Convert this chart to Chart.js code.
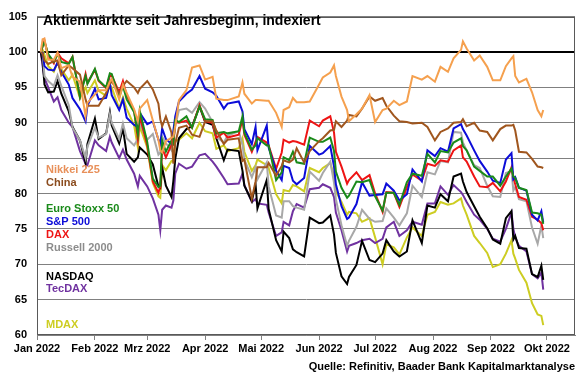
<!DOCTYPE html>
<html><head><meta charset="utf-8">
<script src="https://cdn.jsdelivr.net/npm/chart.js@4.4.1/dist/chart.umd.min.js"></script>
<style>html,body{margin:0;padding:0;background:#fff}#c{display:block}</style>
</head><body>
<canvas id="c" width="580" height="375"></canvas>
<script>
// ---- data (index, first trading day = 100) ----
const year = 2022;
const dates = [
'01-03','01-04','01-05','01-07','01-10','01-12','01-14','01-18','01-20','01-24',
'01-27','01-28','02-01','02-03','02-07','02-09','02-10','02-14','02-16','02-18',
'02-22','02-24','02-25','03-01','03-04','03-07','03-08','03-09','03-11','03-14',
'03-15','03-16','03-18','03-22','03-25','03-29','04-01','04-05','04-07','04-11',
'04-13','04-19','04-21','04-22','04-26','04-28','04-29','05-04','05-05','05-09',
'05-12','05-13','05-16','05-18','05-20','05-24','05-27','06-01','06-03','06-07',
'06-09','06-10','06-13','06-16','06-17','06-21','06-24','06-28','07-01','07-05',
'07-07','07-11','07-14','07-18','07-21','07-26','07-29','08-02','08-05','08-09',
'08-12','08-16','08-17','08-19','08-23','08-26','08-30','09-02','09-06','09-09',
'09-12','09-13','09-14','09-16','09-20','09-23','09-26','09-28','09-29'];

const nikkei = [100,101.8,101.9,98.9,98.9,99.9,97.7,98.1,96.5,95.8, 90.9,92.8,94.0,94.6,94.6,95.8,96.2,93.3,95.4,94.2, 91.9,90.2,92.0,93.2,90.3,87.6,86.1,85.8,87.4,87.9, 88.0,89.5,93.2,94.6,97.8,98.1,96.1,96.5,93.4,93.2, 93.2,93.7,95.7,94.1,92.7,93.2,93.2,93.1,93.1,91.4, 89.4,91.8,92.2,93.5,92.9,92.9,93.0,95.4,96.4,97.1, 98.1,96.6,93.7,91.8,90.2,91.2,92.0,93.9,90.1,91.8, 92.0,93.1,92.5,93.0,96.6,96.1,96.6,95.8,97.9,97.2, 99.1,100.3,101.5,100.5,98.8,99.5,97.9,96.0,96.0,98.0, 99.1,99.4,96.6,95.7,96.2,94.3,91.8,90.9,91.8];
const china = [100,99.8,98.8,98.3,98.7,98.8,96.7,98.1,97.7,96.8, 93.3,92.4,92.4,92.4,94.2,95.6,95.8,94.2,95.2,95.9, 95.0,94.2,94.8,95.9,94.7,92.7,90.5,89.5,90.9,88.6, 84.2,87.1,89.3,89.6,88.3,88.0,90.2,90.2,88.9,87.0, 87.6,87.8,84.6,84.8,79.3,81.7,83.7,83.7,84.3,82.5, 83.9,84.7,84.4,84.8,86.4,84.4,86.0,87.4,87.8,88.9, 89.0,90.2,89.4,90.3,91.1,90.9,92.0,93.7,93.1,93.5, 92.4,91.0,90.2,90.1,89.9,90.0,89.4,87.5,88.7,89.2, 90.0,90.1,90.5,89.5,90.0,88.9,88.7,87.5,89.1,89.6, 89.6,89.7,88.9,85.9,85.8,84.9,83.8,83.7,83.6];
const euroStoxx = [100,100.8,101.4,99.7,98.6,99.7,98.6,98.3,99.3,93.6, 96.6,95.5,97.6,96.0,95.0,97.0,96.9,93.6,95.2,93.3, 91.5,88.4,91.7,87.3,82.1,80.9,81.1,87.5,85.9,87.5, 87.1,90.4,90.1,90.9,89.3,92.3,90.5,90.4,88.5,88.7, 88.5,88.8,90.9,88.6,86.2,86.8,87.8,86.8,86.8,81.9, 83.0,85.1,84.7,85.9,84.4,84.2,87.9,87.3,87.3,87.9, 86.0,83.1,80.8,79.4,79.7,81.7,81.6,81.9,79.6,77.6, 80.1,80.1,78.4,81.6,82.8,82.5,85.6,84.4,86.0,85.8, 87.2,87.8,86.7,86.1,83.8,83.2,82.4,82.4,81.1,82.4, 83.5,82.4,82.2,80.8,80.5,77.3,77.2,77.0,75.7];
const sp500 = [100,99.9,98.0,97.5,97.4,98.5,97.2,95.4,93.5,91.9, 90.2,92.4,94.8,93.3,93.5,95.6,93.9,91.8,93.3,90.7, 89.7,89.4,91.4,89.8,90.2,87.6,87.0,89.2,87.7,87.0, 88.9,90.9,93.0,94.1,94.7,96.6,94.8,94.3,93.8,92.0, 92.7,93.0,91.6,89.1,87.0,89.4,86.1,89.6,86.5,83.2, 81.9,83.9,83.6,81.8,81.3,82.2,86.7,85.5,85.7,86.7, 83.8,81.3,78.2,76.4,76.6,78.5,81.6,79.7,79.8,79.9, 81.4,80.4,79.0,79.9,83.4,81.7,86.1,85.3,86.4,85.9, 89.2,89.8,89.1,88.2,86.1,84.6,83.1,81.8,81.5,84.8, 85.7,82.0,82.3,80.8,80.4,77.0,76.2,77.5,75.9];
const dax = [100,100.8,101.6,99.5,98.4,99.9,99.1,98.4,99.3,93.7, 96.9,95.6,97.5,95.9,94.9,96.6,96.7,94.3,95.9,93.9, 91.7,87.7,90.9,86.8,81.7,80.1,81.0,86.4,85.1,86.9, 86.9,90.1,90.0,90.3,89.3,92.5,90.2,90.0,87.9,88.6, 87.9,88.3,90.5,88.3,85.9,87.3,88.0,87.2,86.8,83.5, 85.8,87.6,87.2,87.4,87.3,86.9,90.3,89.5,90.3,90.9, 88.6,85.9,83.8,81.4,81.9,83.0,81.9,82.6,80.0,77.4, 80.2,80.1,78.1,80.9,82.7,81.8,84.2,83.9,84.7,84.5, 86.1,86.8,85.1,84.5,82.4,81.0,80.9,81.5,80.3,81.7, 83.7,82.3,81.3,79.5,79.1,76.7,76.3,75.8,74.8];
const russell = [100,99.8,96.6,95.9,95.2,96.7,95.2,92.5,89.3,87.5, 85.0,86.6,89.3,87.9,88.4,91.2,90.0,87.7,89.9,87.8, 86.8,87.7,89.9,87.6,88.4,85.5,85.8,88.0,87.1,86.1, 87.7,89.5,91.8,92.0,91.4,92.9,92.0,90.1,88.0,87.2, 88.2,88.8,86.9,84.8,82.3,83.7,82.0,84.4,81.0,76.9, 76.6,78.9,78.9,78.2,78.0,77.7,83.1,81.8,82.9,84.5, 81.5,79.2,75.5,72.6,73.3,75.3,77.7,76.4,76.0,76.1, 77.9,76.6,75.5,77.2,81.1,79.5,83.0,82.7,84.6,84.4, 88.7,88.6,87.2,86.1,84.0,83.6,81.1,79.6,79.5,82.9, 83.2,80.4,80.9,79.2,78.9,75.2,72.9,75.5,73.7];
const nasdaq = [100,98.7,95.4,94.3,94.4,95.9,94.1,91.6,89.4,87.5, 84.3,87.0,90.6,87.7,88.5,91.5,89.6,87.1,89.2,85.6, 84.5,85.1,86.5,85.5,84.1,81.0,80.8,83.7,81.1,79.5, 81.8,84.9,87.8,89.1,89.5,92.3,90.1,89.7,87.8,84.7, 86.2,86.0,83.2,81.1,78.9,81.3,77.9,81.9,77.8,73.4, 71.8,74.6,73.7,72.1,71.7,71.1,76.6,75.8,75.9,76.9, 74.2,71.6,68.3,67.2,68.2,69.9,73.3,70.6,70.3,71.5, 73.4,71.8,71.1,71.8,76.2,73.0,78.3,78.0,79.9,78.9, 82.4,82.8,81.7,80.2,78.2,76.7,75.1,73.5,72.9,76.5, 77.5,73.5,74.0,72.3,72.2,68.6,68.2,69.8,67.8];
const tecdax = [100,98.0,96.3,95.0,93.0,93.6,91.8,90.0,89.4,86.0, 84.2,84.0,87.5,86.8,86.0,88.0,87.2,85.0,86.2,84.8, 82.8,81.0,82.5,81.0,79.3,77.0,74.8,77.7,78.3,78.0, 79.0,82.8,84.2,83.5,83.8,85.4,85.6,84.5,83.8,82.2, 81.3,81.4,82.8,81.2,78.8,79.2,78.6,78.4,77.3,74.0, 74.5,76.0,75.5,77.5,78.5,78.0,80.6,80.8,81.3,80.8, 79.5,77.3,74.8,71.8,72.6,73.0,73.4,73.6,73.0,73.6, 75.2,76.0,74.0,74.8,76.0,75.6,78.6,78.6,81.0,79.8, 81.2,80.2,79.8,78.8,77.0,76.3,75.0,73.6,73.2,75.0, 77.3,75.0,73.8,72.6,71.8,68.6,68.0,68.8,66.4];
const mdax = [100,100.3,99.6,98.0,97.2,98.5,97.6,96.0,96.8,93.5, 95.0,94.2,96.0,94.5,93.8,95.3,95.0,92.0,93.6,92.0, 89.6,86.5,89.5,86.5,81.5,79.6,79.4,84.0,83.3,84.6, 84.5,87.4,87.6,88.5,87.8,90.0,88.8,88.5,86.3,86.8, 86.0,86.4,87.8,85.9,83.2,84.0,84.8,84.0,83.6,79.9, 78.6,80.5,80.3,81.2,81.0,80.3,83.6,83.0,83.6,84.3, 82.5,80.3,78.8,77.0,77.4,77.2,76.0,76.5,73.8,70.0, 72.8,72.4,71.4,73.8,75.2,74.0,77.0,77.4,78.8,78.4, 78.6,79.3,78.3,77.0,74.0,73.0,71.6,69.6,70.0,71.5, 73.4,71.5,70.8,69.2,67.4,64.5,62.9,62.7,61.4];

const seriesNames = ['Nikkei 225','China','Euro Stoxx 50','S&P 500','DAX','Russell 2000','NASDAQ','TecDAX','MDAX'];
const seriesValues = [nikkei, china, euroStoxx, sp500, dax, russell, nasdaq, tecdax, mdax];
const monthStarts = ['01-01','02-01','03-01','04-01','05-01','06-01','07-01','08-01','09-01','10-01'];
const monthLabels = ['Jan 2022','Feb 2022','Mrz 2022','Apr 2022','Mai 2022','Jun 2022','Jul 2022','Aug 2022','Sep 2022','Okt 2022'];
const axisEnd = '10-16';
const yTicks = {min: 60, max: 105, step: 5};
const titleText = 'Aktienmärkte seit Jahresbeginn, indexiert';
const sourceText = 'Quelle: Refinitiv, Baader Bank Kapitalmarktanalyse';

// ---- styling ----
const colors = ['#F5A04E','#A0561E','#1A8A1A','#0C0CD8','#EE1414','#A8A8A8','#000000','#7032A0','#CDCD22'];
const textColors = ['#E8905A','#8B4C1E','#1A8A1A','#0C0CD8','#EE1414','#8C8C8C','#000000','#7032A0','#CDCD22'];
const legendY = [170,183,209,222,235,248,277,289,325];
const FONT = '"Liberation Sans", Arial, Helvetica, sans-serif';

function dayOf(md){ const p = md.split('-').map(Number); return (Date.UTC(year,p[0]-1,p[1]) - Date.UTC(year,0,1))/86400000; }
const xs = dates.map(dayOf);

const datasets = seriesNames.map((name,k)=>({
  label: name,
  data: xs.map((x,i)=>({x:x, y:seriesValues[k][i]})),
  borderColor: colors[k],
  backgroundColor: colors[k],
  borderWidth: 2,
  pointRadius: 0,
  tension: 0,
  fill: false
}));

const decor = {
  id: 'decor',
  afterDraw(chart){
    const ctx = chart.ctx, a = chart.chartArea;
    ctx.save();
    ctx.strokeStyle = '#595959'; ctx.lineWidth = 1;
    ctx.strokeRect(Math.round(a.left)+0.5, Math.round(a.top)+0.5, Math.round(a.right-a.left)-1, Math.round(a.bottom-a.top)-1);
    ctx.fillStyle = '#000';
    ctx.font = 'bold 14px ' + FONT;
    ctx.textBaseline = 'middle'; ctx.textAlign = 'left';
    ctx.fillText(titleText, a.left + 6, 21);
    ctx.font = 'bold 11px ' + FONT;
    seriesNames.forEach((n,k)=>{ ctx.fillStyle = textColors[k]; ctx.fillText(n, 46, legendY[k]); });
    ctx.fillStyle = '#000'; ctx.textAlign = 'right';
    ctx.fillText(sourceText, 575, 367);
    ctx.restore();
  }
};

new Chart(document.getElementById('c'), {
  type: 'line',
  data: { datasets },
  options: {
    responsive: false, animation: false, devicePixelRatio: 1, events: [],
    layout: { padding: { top: 10, right: 5, left: 0, bottom: 0 } },
    plugins: { legend: { display: false }, tooltip: { enabled: false }, title: { display: false } },
    scales: {
      x: {
        type: 'linear', min: 0, max: dayOf(axisEnd),
        afterBuildTicks: (s) => { s.ticks = monthStarts.map(m => ({ value: dayOf(m) })); },
        afterFit: (s) => { s.height = 40; },
        ticks: { autoSkip: false, maxRotation: 0, padding: 2, color: '#000', font: { family: FONT, size: 11, weight: 'bold' },
                 callback: (v, i) => monthLabels[i] },
        grid: { drawOnChartArea: false, drawTicks: true, tickLength: 5, color: '#808080' },
        border: { display: true, color: '#808080', width: 1 }
      },
      y: {
        min: yTicks.min, max: yTicks.max,
        afterFit: (s) => { s.width = 37; },
        ticks: { stepSize: yTicks.step, padding: 10, color: '#000', font: { family: FONT, size: 11, weight: 'bold' } },
        grid: { drawTicks: false,
                color: (c) => c.tick && c.tick.value === 100 ? '#000000' : '#808080',
                lineWidth: (c) => c.tick && c.tick.value === 100 ? 2 : 1 },
        border: { display: true, color: '#808080', width: 1 }
      }
    }
  },
  plugins: [decor]
});
</script>
</body></html>
